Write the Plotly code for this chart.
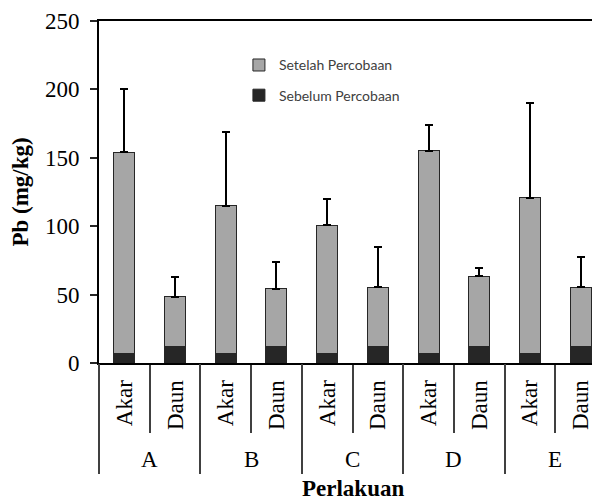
import plotly.graph_objects as go

groups = ["A", "B", "C", "D", "E"]
parts = ["Akar", "Daun"]
sebelum = [7.0, 11.8, 7.0, 11.8, 7.0, 11.8, 7.0, 11.8, 7.0, 11.8]
setelah = [147.0, 36.5, 108.0, 42.4, 93.8, 43.5, 148.0, 51.7, 113.8, 43.4]
err_plus = [46.0, 14.4, 53.7, 19.3, 19.0, 29.4, 19.0, 6.3, 69.2, 22.4]

categories = [f"{g} {p}" for g in groups for p in parts]
tick_text = [p for g in groups for p in parts]
n_cat = len(categories)
group_bounds = [i * len(parts) - 0.5 for i in range(len(groups))]
group_centers = [i * len(parts) + (len(parts) - 1) / 2 for i in range(len(groups))]

SERIF = "Liberation Serif"
x_range = [-0.5, n_cat - 0.5]

fig = go.Figure()
fig.add_trace(go.Bar(
    x=categories, y=sebelum, name="Sebelum Percobaan", legendgroup="g2",
    legendrank=2,
    marker=dict(color="#262626", line=dict(color="#262626", width=1)),
))
fig.add_trace(go.Bar(
    x=categories, y=setelah, name="Setelah Percobaan", legendgroup="g1",
    legendrank=1,
    marker=dict(color="#a6a6a6", line=dict(color="#262626", width=1)),
    error_y=dict(type="data", symmetric=False, array=err_plus,
                 arrayminus=[0] * n_cat, color="black", thickness=2, width=4),
))
# invisible trace on overlay axis for group dividers
fig.add_trace(go.Scatter(x=[group_bounds[0]], y=[0], xaxis="x2", mode="markers",
                         marker=dict(opacity=0), showlegend=False, hoverinfo="skip"))

fig.update_layout(
    width=600, height=501,
    margin=dict(l=91, r=2, t=13, b=146, pad=0),
    paper_bgcolor="white", plot_bgcolor="white",
    barmode="stack", bargap=0.587,
    showlegend=True,
    legend=dict(x=0.276, y=0.917, xanchor="left", yanchor="top",
                traceorder="grouped", tracegroupgap=9,
                font=dict(family="Lato", size=14, color="#404040"),
                bgcolor="rgba(0,0,0,0)"),
    xaxis=dict(
        type="category", range=x_range,
        tickmode="array", tickvals=categories, ticktext=tick_text,
        tickson="boundaries", ticks="outside", ticklen=68, tickwidth=2,
        tickcolor="#404040", tickangle=-90, ticklabelstandoff=6,
        tickfont=dict(family=SERIF, size=23, color="black"),
        showline=True, linecolor="black", linewidth=2, mirror=True,
        showgrid=False, zeroline=False,
        automargin=False,
    ),
    xaxis2=dict(
        overlaying="x", anchor="y", side="bottom", range=x_range,
        tickmode="array", tickvals=group_bounds, ticks="outside", ticklen=110,
        tickwidth=2, tickcolor="#404040", showticklabels=False,
        showline=False, showgrid=False, zeroline=False, automargin=False,
    ),
    yaxis=dict(
        range=[0, 250], tickmode="linear", tick0=0, dtick=50,
        ticks="outside", ticklen=7, tickwidth=2, tickcolor="#262626",
        tickfont=dict(family=SERIF, size=23, color="black"),
        ticklabelstandoff=6,
        showline=True, linecolor="black", linewidth=2,
        showgrid=False, zeroline=False,
        title=dict(text="<b>Pb (mg/kg)</b>", font=dict(family=SERIF, size=23, color="black"),
                   standoff=16),
        automargin=False,
    ),
)

for g, c in zip(groups, group_centers):
    fig.add_annotation(x=c, y=-0.2836, xref="x", yref="paper", text=g,
                       showarrow=False, yanchor="middle", xanchor="center",
                       font=dict(family=SERIF, size=23, color="black"))

# x-axis title
fig.add_annotation(x=0.5, y=-0.3655, xref="paper", yref="paper", text="<b>Perlakuan</b>",
                   showarrow=False, yanchor="middle", xanchor="center",
                   font=dict(family=SERIF, size=23, color="black"))

fig.write_html("out.html")
